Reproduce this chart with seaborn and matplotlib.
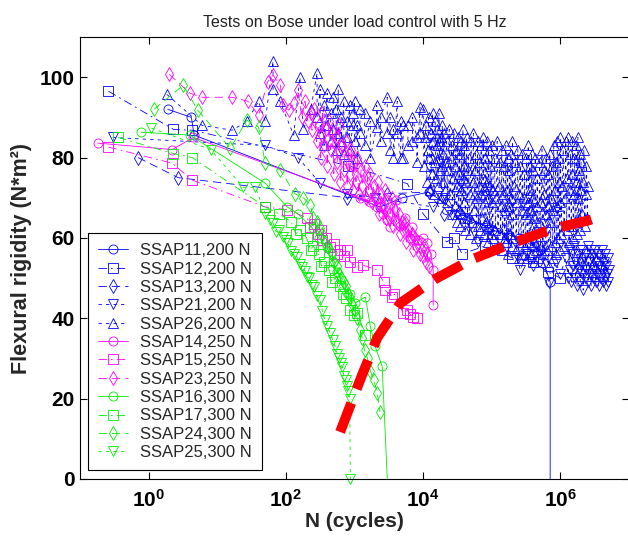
import matplotlib
matplotlib.use("Agg")
import matplotlib.pyplot as plt
import seaborn as sns
from matplotlib.ticker import NullLocator

# ------------------------------------------------------------------ data
title = "Tests on Bose under load control with 5 Hz"
x_label = "N (cycles)"
y_label = "Flexural rigidity (N*m\u00b2)"
xtick_values = [1, 1e2, 1e4, 1e6]
xtick_labels = [r"$\mathbf{10^{0}}$", r"$\mathbf{10^{2}}$", r"$\mathbf{10^{4}}$", r"$\mathbf{10^{6}}$"]
ytick_values = [0, 20, 40, 60, 80, 100]

series_labels = ["SSAP11,200 N", "SSAP12,200 N", "SSAP13,200 N", "SSAP21,200 N",
                 "SSAP26,200 N", "SSAP14,250 N", "SSAP15,250 N", "SSAP23,250 N",
                 "SSAP16,300 N", "SSAP17,300 N", "SSAP24,300 N", "SSAP25,300 N"]

ssap11_N = [1.9, 4.2, 4.6, 2350, 5000, 1.2e4, 3.5e4, 1e5, 2.5e5, 5e5, 7.1e5, 7.1e5]
ssap11_v = [92, 90, 85.6, 67.7, 70, 71.4, 66, 62, 60, 57, 49, -5]

ssap12_N = [0.26, 2.3, 4.3, 800, 5900, 1.0e4, 2.2e4, 2.8e4, 3.7e4, 8e4, 2e5, 4e5, 6.7e5, 1.0e6]
ssap12_v = [96.5, 87, 86.8, 78, 73.5, 66, 59, 60, 56, 58, 55, 54, 51.5, 50]

ssap13_N = [0.7, 2.7, 790, 3000, 1.2e4, 2e4, 5e4, 1.5e5, 4e5]
ssap13_v = [80, 75, 70, 71, 71.4, 66, 64, 62, 60]

ssap21_N = [0.3, 50, 150, 316, 790, 2000, 1.4e4, 1.9e4, 2.1e4, 2.6e4, 3.9e4, 6.3e4,
            9e4, 1.2e5, 1.7e5, 2.4e5, 2.6e5, 3.3e5, 4e5, 5.2e5, 6.8e5, 8.5e5, 1.0e6,
            1.2e6, 1.3e6, 1.35e6, 1.4e6, 1.45e6, 1.5e6, 1.55e6, 1.6e6, 1.65e6, 1.7e6,
            1.75e6, 1.8e6, 1.85e6, 1.9e6, 1.95e6, 2.0e6, 2.05e6, 2.1e6, 2.15e6, 2.2e6,
            2.3e6, 2.35e6, 2.4e6, 2.5e6, 2.55e6, 2.6e6, 2.7e6, 2.75e6, 2.8e6, 2.9e6,
            3.0e6, 3.05e6, 3.1e6, 3.2e6, 3.3e6, 3.35e6, 3.4e6, 3.5e6, 3.6e6, 3.7e6,
            3.8e6, 3.9e6, 4.0e6, 4.1e6, 4.2e6, 4.3e6, 4.4e6, 4.5e6, 4.6e6, 4.7e6,
            4.8e6, 4.9e6, 5.0e6, 5.1e6]
ssap21_v = [85, 83, 80, 73.6, 71, 70, 67.7, 70, 69.4, 65.7, 65, 59,
            62, 57, 60, 55, 52, 56, 53, 58, 48.8, 54, 51,
            55, 50, 57, 52, 49, 56, 53, 58, 50, 54,
            48, 56, 52, 57, 49, 54, 51, 57, 47, 55,
            50, 56, 52, 58, 49, 54, 51, 57, 48, 55,
            50, 56, 52, 57, 49, 54, 51, 56, 48, 53,
            50, 55, 52, 57, 49, 54, 50, 56, 48, 53,
            51, 55, 49, 52]

ssap26_N = [1.85, 6, 16.5, 27, 40, 50, 65, 65, 82, 130, 160, 180, 230,
            285, 285, 316, 316, 360, 360, 400, 400, 450, 450, 490, 490, 540, 540,
            580, 580, 640, 640, 700, 700, 780, 780, 850, 850, 950, 950, 1000, 1000,
            1100, 1100, 1200, 1200, 1400, 1400, 1700, 1700, 2100, 2100, 2400, 2400,
            3000, 3000, 3300, 3300, 3700, 3700, 4200, 4200, 4700, 4700, 5100, 5100,
            6000, 6000, 7000, 7000, 8100, 8100, 9000, 9000,
            1.00e4, 1.03e4, 1.06e4, 1.10e4, 1.13e4, 1.16e4, 1.20e4, 1.23e4, 1.27e4,
            1.30e4, 1.34e4, 1.37e4, 1.40e4, 1.44e4, 1.47e4, 1.50e4, 1.54e4, 1.58e4,
            1.60e4, 1.64e4, 1.68e4, 1.70e4, 1.74e4, 1.78e4, 1.80e4, 1.85e4, 1.89e4,
            1.90e4, 1.95e4, 1.98e4, 2.00e4, 2.06e4, 2.12e4, 2.20e4, 2.26e4, 2.33e4,
            2.40e4, 2.47e4, 2.53e4, 2.60e4, 2.67e4, 2.74e4, 2.80e4, 2.88e4, 2.95e4,
            3.00e4, 3.08e4, 3.16e4, 3.20e4, 3.29e4, 3.37e4, 3.40e4, 3.50e4, 3.58e4,
            3.60e4, 3.70e4, 3.78e4, 3.80e4, 3.90e4, 3.97e4, 4.00e4, 4.12e4, 4.22e4,
            4.30e4, 4.42e4, 4.53e4, 4.60e4, 4.74e4, 4.86e4, 5.00e4, 5.14e4, 5.28e4,
            5.40e4, 5.55e4, 5.70e4, 5.80e4, 5.96e4, 6.10e4, 6.20e4, 6.37e4, 6.52e4,
            6.60e4, 6.78e4, 6.95e4, 7.00e4, 7.20e4, 7.38e4, 7.50e4, 7.70e4, 7.90e4,
            8.00e4, 8.22e4, 8.43e4, 8.50e4, 8.74e4, 8.96e4, 9.00e4, 9.25e4, 9.48e4,
            9.50e4, 9.76e4, 9.95e4,
            1.00e5, 1.03e5, 1.06e5, 1.10e5, 1.13e5, 1.16e5, 1.20e5, 1.23e5, 1.27e5,
            1.30e5, 1.34e5, 1.37e5, 1.40e5, 1.44e5, 1.47e5, 1.50e5, 1.54e5, 1.58e5,
            1.60e5, 1.64e5, 1.68e5, 1.70e5, 1.74e5, 1.78e5, 1.80e5, 1.85e5, 1.89e5,
            1.90e5, 1.95e5, 1.98e5, 2.00e5, 2.06e5, 2.12e5, 2.20e5, 2.26e5, 2.33e5,
            2.40e5, 2.47e5, 2.53e5, 2.60e5, 2.67e5, 2.74e5, 2.80e5, 2.88e5, 2.95e5,
            3.00e5, 3.08e5, 3.16e5, 3.20e5, 3.29e5, 3.37e5, 3.40e5, 3.50e5, 3.58e5,
            3.60e5, 3.70e5, 3.78e5, 3.80e5, 3.90e5, 3.97e5, 4.00e5, 4.12e5, 4.22e5,
            4.30e5, 4.42e5, 4.53e5, 4.60e5, 4.74e5, 4.86e5, 5.00e5, 5.14e5, 5.28e5,
            5.40e5, 5.55e5, 5.70e5, 5.80e5, 5.96e5, 6.10e5, 6.20e5, 6.37e5, 6.52e5,
            6.60e5, 6.78e5, 6.95e5, 7.00e5, 7.20e5, 7.38e5, 7.50e5, 7.70e5, 7.90e5,
            8.00e5, 8.22e5, 8.43e5, 8.50e5, 8.74e5, 8.96e5, 9.00e5, 9.25e5, 9.48e5,
            9.50e5, 9.76e5, 9.95e5,
            1.00e6, 1.03e6, 1.06e6, 1.10e6, 1.13e6, 1.16e6, 1.20e6, 1.23e6, 1.27e6,
            1.30e6, 1.34e6, 1.37e6, 1.40e6, 1.44e6, 1.47e6, 1.50e6, 1.54e6, 1.58e6,
            1.60e6, 1.64e6, 1.68e6, 1.70e6, 1.74e6, 1.78e6, 1.80e6, 1.85e6, 1.89e6,
            1.90e6, 1.95e6, 1.98e6, 2.00e6, 2.06e6, 2.12e6, 2.20e6, 2.26e6, 2.33e6,
            2.40e6, 2.47e6, 2.53e6]
ssap26_v = [95.7, 88, 86.8, 89, 94, 89, 104, 97, 94, 85.6, 100, 87, 92,
            101, 90, 97, 86, 93, 83, 96, 88, 91, 84, 87, 95, 92, 82,
            97, 86, 90, 84, 94, 81, 89, 85, 93, 82, 88, 91, 94, 84,
            88, 80, 86, 92, 91, 83, 89, 80, 87.6, 93, 84, 90,
            95, 86, 90, 82, 87, 80, 94, 86, 80, 89, 80, 88,
            88, 83, 84, 90, 85, 79, 92.5, 86,
            92, 78, 85, 88, 74, 82, 90, 80, 72,
            86, 76, 91, 84, 71, 79, 89, 75, 83,
            87, 73, 80, 91, 77, 84, 85, 70, 78,
            88, 74, 81, 86, 72, 79, 84, 69, 77,
            87, 71, 80, 83, 66, 75, 86, 68, 78,
            82, 64, 73, 85, 67, 76, 81, 63, 72,
            84, 66, 75, 87, 69, 78, 83, 62, 74,
            85, 65, 77, 80, 61, 71, 84, 64, 74,
            86, 67, 77, 81, 60, 70, 84, 63, 73,
            79, 62, 71, 83, 65, 75, 85, 61, 72,
            80, 64, 74, 84, 59, 70, 82, 63, 73,
            78, 61, 69,
            83, 60, 72, 80, 62, 70,
            84, 58, 73, 79, 61, 68, 82, 57, 71,
            78, 60, 67, 83, 59, 72, 80, 56, 68,
            77, 61, 70, 81, 58, 66, 84, 60, 73,
            79, 57, 69, 82, 55, 71, 78, 59, 67,
            81, 56, 70, 76, 58, 66, 80, 55, 69,
            83, 59, 72, 78, 56, 67, 81, 58, 70,
            77, 54, 65, 80, 57, 68, 75, 55, 64,
            79, 58, 69, 82, 56, 71, 77, 54, 66,
            80, 57, 68, 76, 53, 64, 81, 58, 70,
            78, 55, 67, 83, 59, 72, 79, 56, 68,
            84, 60, 74, 80, 57, 69,
            85, 61, 73,
            82, 58, 70, 84, 62, 75, 85, 59, 72,
            81, 63, 76, 84, 60, 71, 80, 64, 74,
            83, 61, 70, 85, 65, 77, 81, 62, 72,
            79, 66, 74, 82, 63, 71, 78, 65, 73]

ssap14_N = [0.18, 2.2, 4.5, 1700, 1200, 2150, 2600, 3000, 2400, 3300, 4000, 4600,
            5500, 6500, 7000, 8500, 1.0e4, 1.15e4, 1.3e4, 1.4e4, 1.4e4]
ssap14_v = [83.6, 82, 85, 69, 70, 67.7, 66, 64.4, 68, 62.7, 69.4, 63,
            65, 60, 62.7, 59.5, 60, 58.7, 56, 52, 43.3]

ssap15_N = [0.26, 2.2, 4.3, 50, 105, 204, 228, 260, 290, 320, 340, 380, 445, 500, 560,
            620, 700, 790, 870, 1100, 1350, 2150, 2650, 2800, 3550, 3800, 5100, 5900,
            6500, 7200, 8200]
ssap15_v = [82.6, 78.6, 74.4, 67.7, 67, 65, 62.7, 63.5, 61, 62, 59.5, 60, 57.7, 58.5, 56,
            57, 55.5, 57, 54, 52.7, 53.2, 52, 49, 47, 45.3, 46, 41.3, 42,
            41, 40.3, 40]

ssap23_N = [2.0, 4.0, 6.0, 16.5, 28, 40, 54, 65, 83, 90, 110, 130, 150, 170, 190, 210,
            230, 240, 260, 280, 300, 320, 340, 360, 380, 400, 420, 450, 480, 500, 530,
            560, 600, 620, 660, 700, 740, 780, 820, 850, 900, 950, 1000, 1050, 1100,
            1150, 1250, 1300, 1400, 1450, 1550, 1600, 1700, 1800, 1900, 2000, 2200,
            2300, 2450, 2600, 2750, 2900, 3100, 3300, 3500, 3700, 3900, 4100, 4400,
            4600, 4900, 5100, 5400, 5700, 6000, 6400, 6800, 7200, 7600, 8000, 8500,
            9000, 9500, 1.0e4, 1.05e4, 1.1e4, 1.15e4, 1.2e4]
ssap23_v = [100.7, 96, 95, 95, 94, 90.5, 98.8, 100.5, 98, 93, 91.8, 93.5, 96.8, 90, 94, 89,
            91, 86.8, 92, 84, 88, 80, 91, 83, 87, 78, 89, 82, 86, 76, 85,
            79, 88, 74, 83, 77, 84, 73, 81, 76, 82, 72, 79, 74, 80,
            71, 77, 73, 78, 70, 75, 72, 76, 69, 73, 70, 74,
            66, 71, 68, 72, 65, 69, 66, 70, 63, 67, 64, 66,
            61, 64, 62, 64, 59, 62, 60, 61, 57, 60, 58, 59,
            56, 57, 55.5, 57, 54, 56, 53]

ssap16_N = [0.78, 4.0, 50, 105, 150, 245, 300, 400, 480, 560, 690, 850, 1030, 1440,
            1700, 2000, 2530, 3100]
ssap16_v = [86.3, 85.6, 73.6, 67.7, 66, 62.4, 60, 57.7, 54, 51.5, 47.8, 46, 43.8, 45.3,
            38, 33, 28, -5]

ssap17_N = [0.36, 2.3, 4.3, 50, 80, 120, 140, 160, 200, 230, 250, 300, 330, 360, 430,
            470, 520, 620, 680, 750, 850, 970, 1100, 1440]
ssap17_v = [85, 81, 80, 67.7, 66, 64, 61, 62, 60, 57, 58, 56, 53, 54, 52,
            49, 50, 48, 46, 45, 42, 40.8, 41.3, 35.8]

ssap24_N = [1.2, 3.2, 5.2, 15.5, 27, 40, 50, 83, 135, 180, 228, 250, 280, 310, 340,
            370, 400, 440, 470, 510, 550, 600, 640, 700, 750, 800, 870, 930, 1000,
            1100, 1200, 1300, 1400, 1550, 1700, 1900, 2150, 2350]
ssap24_v = [92, 98, 91.8, 82.3, 89.3, 87.6, 78.6, 76.9, 71, 70, 68.2, 65, 64, 62.5, 61,
            59, 58, 57, 56, 54, 53, 51, 50, 49, 48, 46, 45, 43.5, 42,
            40, 37, 35, 32, 30, 27, 24.6, 21.4, 16.7]

ssap25_N = [1.1, 8, 24, 36, 50, 58, 65, 72, 80, 90, 100, 107, 118, 130, 145, 160, 174,
            190, 205, 220, 240, 260, 285, 316, 340, 370, 400, 445, 480, 520, 560, 600,
            630, 660, 700, 740, 780, 810, 850, 870]
ssap25_v = [87.3, 82, 72.6, 72.6, 66, 64.5, 63.7, 61.5, 62, 60.3, 59.5, 58.7, 56.8, 56,
            55.2, 53.5, 52.7, 51.8, 50.2, 50, 48.3, 47.8, 45.6, 44.5, 41.8, 39.6, 38.2,
            36.3, 34.6, 33, 31.2, 30, 28.8, 27.9, 25.7, 24.6, 23.1, 22, 20, 0]

boundary_N = [617, 933, 1290, 2140, 4680, 1.51e4, 5.2e4, 2.0e5, 7.6e5, 4.1e6]
boundary_v = [11.7, 19.7, 25.9, 35.1, 43.8, 49.8, 54.7, 58.7, 62.2, 65.2]

series_N = [ssap11_N, ssap12_N, ssap13_N, ssap21_N, ssap26_N, ssap14_N, ssap15_N,
            ssap23_N, ssap16_N, ssap17_N, ssap24_N, ssap25_N]
series_v = [ssap11_v, ssap12_v, ssap13_v, ssap21_v, ssap26_v, ssap14_v, ssap15_v,
            ssap23_v, ssap16_v, ssap17_v, ssap24_v, ssap25_v]

# ------------------------------------------------------------------ styles
BLUE, MAG, GREEN = "#0000ff", "#ff00ff", "#00ee00"
SOLID = "-"
DASHDOT = (0, (10, 5, 2, 5))
DASH = (0, (10, 6))
DOT = (0, (4, 5))
series_styles = [
    (BLUE, SOLID, "o", 6.5), (BLUE, DASHDOT, "s", 6.5), (BLUE, DASH, "d", 7.5),
    (BLUE, DOT, "v", 6.5), (BLUE, DOT, "^", 6.5),
    (MAG, SOLID, "o", 6.5), (MAG, DASHDOT, "s", 6.5), (MAG, DASH, "d", 7.5),
    (GREEN, SOLID, "o", 6.5), (GREEN, DASHDOT, "s", 6.5), (GREEN, DASH, "d", 7.5),
    (GREEN, DOT, "v", 6.5),
]

sns.set_theme(style="white")
plt.rcParams["font.family"] = ["Liberation Sans", "DejaVu Sans"]
plt.rcParams["mathtext.fontset"] = "custom"
plt.rcParams["mathtext.rm"] = "Liberation Sans"
plt.rcParams["mathtext.bf"] = "Liberation Sans:bold"
plt.rcParams["mathtext.it"] = "Liberation Sans:italic"

fig = plt.figure(figsize=(6.28, 5.42), dpi=100)
ax = fig.add_axes([80 / 628, 63 / 542, 549 / 628, 442 / 542])
ax.set_xscale("log")

handles = []
for lab, N, v, (col, ls, mk, ms) in zip(series_labels, series_N, series_v, series_styles):
    n_before = len(ax.lines)
    sns.lineplot(x=N, y=v, ax=ax, sort=False, estimator=None, legend=False,
                 color=col, linestyle=ls, lw=0.6, marker=mk, markersize=ms,
                 mfc="none", mec=col, mew=0.6)
    line = ax.lines[n_before]
    line.set_label(lab)
    if v[-1] == 0:
        line.set_clip_on(False)
    handles.append(line)

sns.lineplot(x=boundary_N, y=boundary_v, ax=ax, sort=False, estimator=None,
             legend=False, color="#ff0000", lw=7.2, linestyle=(0, (3.1, 1.5)))

ax.set_xlim(0.1, 1e7)
ax.set_ylim(0, 110)
ax.set_xticks(xtick_values)
ax.set_xticklabels(xtick_labels, fontsize=15)
ax.xaxis.set_minor_locator(NullLocator())
ax.set_yticks(ytick_values)
ax.set_yticklabels([str(t) for t in ytick_values], fontsize=15, fontweight="bold")
ax.tick_params(axis="both", direction="in", length=5, width=0.8, colors="black",
               top=True, right=True, bottom=True, left=True)
ax.tick_params(axis="x", pad=7)
ax.tick_params(axis="y", pad=4)
for sp in ax.spines.values():
    sp.set_color("black")
    sp.set_linewidth(0.8)
    sp.set_visible(True)

ax.set_title(title, fontsize=11.5, color="#222222", pad=7)
ax.set_xlabel(x_label, fontsize=15, fontweight="bold", labelpad=1)
ax.set_ylabel(y_label, fontsize=15.5, fontweight="bold", labelpad=5)

leg = ax.legend(handles=handles, labels=series_labels, loc="lower left",
                bbox_to_anchor=(8 / 549, 9 / 442), borderaxespad=0, fontsize=12,
                handlelength=1.8, handletextpad=0.7, labelspacing=0.2,
                borderpad=0.6, numpoints=1, fancybox=False, framealpha=1)
leg.get_frame().set_edgecolor("black")
leg.get_frame().set_linewidth(0.8)

fig.savefig("out.png", dpi=100)
